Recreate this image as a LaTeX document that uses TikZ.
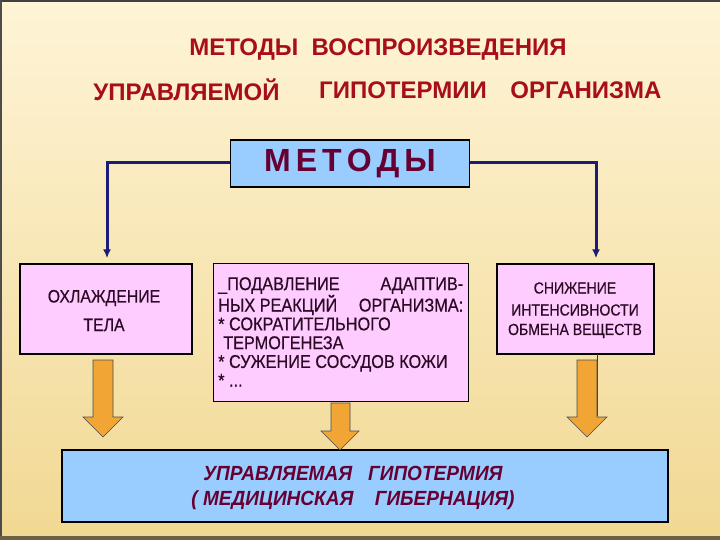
\documentclass[tikz,border=0pt]{standalone}
\usepackage{fontspec}
\setmainfont{Liberation Sans}
\newfontfamily\narrowfont[FakeStretch=0.88, FakeBold=0.5]{Liberation Sans}
\newfontfamily\narrowbold[FakeStretch=0.93]{Liberation Sans}
\usetikzlibrary{arrows.meta,calc}
\definecolor{bgtop}{HTML}{FEF4D6}
\definecolor{bgbot}{HTML}{F1D893}
\definecolor{titlered}{HTML}{A80E18}
\definecolor{maroon}{HTML}{660033}
\definecolor{pinkfill}{HTML}{FFCCFF}
\definecolor{bluefill}{HTML}{99CCFF}
\definecolor{navy}{HTML}{1C1C78}
\definecolor{orangeA}{HTML}{F0A535}
\definecolor{boxtext}{HTML}{2A0A24}
\tikzset{
  titletext/.style={font=\fontsize{24}{28}\selectfont\bfseries, text=titlered, inner sep=0pt},
  pinkbox/.style={draw=black, line width=1.4pt, fill=pinkfill, inner sep=0pt},
  bluebox/.style={draw=black, line width=1.2pt, fill=bluefill, inner sep=0pt},
  boxtxt/.style={font=\narrowfont\fontsize{18}{22}\selectfont, text=boxtext, inner sep=0pt, align=center},
  righttxt/.style={font=\narrowfont\fontsize{16}{20}\selectfont, text=boxtext, inner sep=0pt, align=center},
  midtxt/.style={font=\narrowfont\fontsize{18.5}{18.8}\selectfont, text=boxtext, inner sep=0pt, align=left},
  conn/.style={draw=navy, line width=3pt, -{Latex[length=9pt,width=8pt]}},
  fatarrow/.style={fill=orangeA, draw=black!70, line width=0.6pt, line join=miter}
}
\begin{document}
\begin{tikzpicture}[x=1pt,y=-1pt]
\useasboundingbox (0,0) rectangle (720,540);
\shade[top color=bgtop, bottom color=bgbot] (0,0) rectangle (720,540);
\draw[line width=1.5pt, draw=black!75] (0,1) -- (720,1);
\draw[line width=2pt, draw=black!70] (1,0) -- (1,540);
\draw[line width=5pt, draw=black!55!bgbot] (0,538) -- (720,538);

% title
\node[titletext] (t1) at (378,50) {МЕТОДЫ \ ВОСПРОИЗВЕДЕНИЯ};
\node[titletext] (t2a) at (186.5,90) {УПРАВЛЯЕМОЙ};
\node[titletext] (t2b) at (403,90) {ГИПОТЕРМИИ};
\node[titletext] (t2c) at (586,90) {ОРГАНИЗМА};

% methods box
\node[bluebox, minimum width=239pt, minimum height=47pt] (met) at (350,163.5)
  {\fontsize{32}{36}\selectfont\bfseries\color{maroon}М\hspace{5pt}Е\hspace{5pt}Т\hspace{5pt}О\hspace{5pt}Д\hspace{5pt}Ы};

% three boxes
\node[pinkbox, minimum width=172pt, minimum height=90pt] (cool) at (106,309) {};
\node[boxtxt] (cool1) at (104,298) {ОХЛАЖДЕНИЕ};
\node[boxtxt] (cool2) at (104,325) {ТЕЛА};

\node[pinkbox, minimum width=255pt, minimum height=138pt] (supp) at (341,332.5) {};
\node[midtxt, anchor=north west] (supptxt) at (218,277) {%
\hbox to 245pt{\_ПОДАВЛЕНИЕ\hfill АДАПТИВ-}\\
\hbox to 245pt{НЫХ РЕАКЦИЙ\hfill ОРГАНИЗМА:}\\
* СОКРАТИТЕЛЬНОГО\\
\hspace{5pt}ТЕРМОГЕНЕЗА\\
* СУЖЕНИЕ СОСУДОВ КОЖИ\\
* ...};

\node[pinkbox, minimum width=157pt, minimum height=90pt] (meta) at (575.5,309) {};
\node[righttxt] (meta1) at (575,288) {СНИЖЕНИЕ};
\node[righttxt] (meta2) at (575,310) {ИНТЕНСИВНОСТИ};
\node[righttxt] (meta3) at (575,331) {ОБМЕНА ВЕЩЕСТВ};

% bottom box
\node[bluebox, minimum width=606pt, minimum height=72pt] (res) at (365,486) {};
\node[font=\narrowbold\fontsize{20.5}{24}\selectfont\bfseries\itshape, text=maroon, align=center, inner sep=0pt] (restxt) at (353,488)
  {УПРАВЛЯЕМАЯ \ \ ГИПОТЕРМИЯ\\[1pt] ( МЕДИЦИНСКАЯ \ \ \ ГИБЕРНАЦИЯ)};

% navy connectors
\coordinate (lc) at (107,163);
\coordinate (rc) at (596,163);
\draw[conn] (met.west |- lc) -- (lc) -- ($(lc |- cool.north)+(0,-5)$);
\draw[conn] (met.east |- rc) -- (rc) -- ($(rc |- meta.north)+(0,-5)$);

% thin line behind right arrow
\draw[draw=black!80, line width=0.8pt] (597,354) -- (597,416);

% fat orange arrows
\draw[fatarrow] (93,360) -- (113,360) -- (113,417) -- (123,417) -- (103,437) -- (83,417) -- (93,417) -- cycle;
\draw[fatarrow] (331,403) -- (350,403) -- (350,431) -- (359,431) -- (340,450) -- (321,431) -- (331,431) -- cycle;
\draw[fatarrow] (577,360) -- (597,360) -- (597,417) -- (607,417) -- (587,437) -- (567,417) -- (577,417) -- cycle;
\end{tikzpicture}
\end{document}
